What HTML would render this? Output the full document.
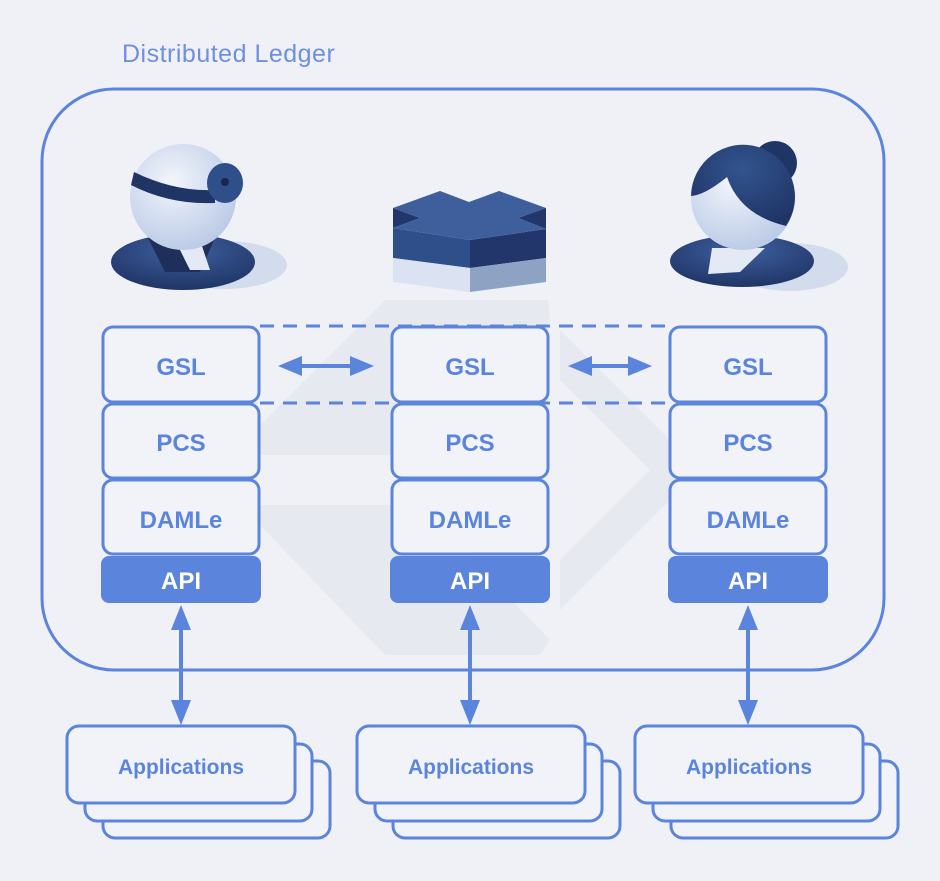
<!DOCTYPE html>
<html><head><meta charset="utf-8"><style>
html,body{margin:0;padding:0;background:#eff1f6;}
svg{display:block}
text{font-family:"Liberation Sans",sans-serif;}
</style></head><body>
<svg width="940" height="881" viewBox="0 0 940 881" xmlns="http://www.w3.org/2000/svg">
<defs>
<radialGradient id="hd" cx="0.4" cy="0.35" r="0.7"><stop offset="0" stop-color="#f2f5fb"/><stop offset="1" stop-color="#b9c9e6"/></radialGradient>
<radialGradient id="bd" cx="0.5" cy="0.3" r="0.7"><stop offset="0" stop-color="#3f609f"/><stop offset="1" stop-color="#1f3566"/></radialGradient>
<radialGradient id="hair" cx="0.5" cy="0.3" r="0.7"><stop offset="0" stop-color="#33548f"/><stop offset="1" stop-color="#1f3566"/></radialGradient>
</defs>
<rect width="940" height="881" fill="#eff1f6"/>
<!-- watermark -->
<g fill="#e7e9f0">
<polygon points="385,300 548,300 550,320 420,455 255,455 255,430"/>
<polygon points="255,505 420,505 550,640 540,655 385,655 255,520"/>
<polygon points="560,330 700,470 560,610 560,560 650,470 560,380"/>
</g>
<text x="122" y="62" font-size="25" fill="#6e8fe0" letter-spacing="0.5">Distributed Ledger</text>
<rect x="42" y="89" width="842" height="581" rx="72" fill="none" stroke="#5b84dd" stroke-width="3"/>

<!-- doctor -->
<ellipse cx="225" cy="265" rx="62" ry="24" fill="#d3dcec"/>
<ellipse cx="183" cy="262" rx="72" ry="28" fill="url(#bd)"/>
<polygon points="148,238 215,238 200,272 165,272" fill="#1e2f5c"/>
<polygon points="175,240 200,240 210,270 190,270" fill="#e3eaf6"/>
<circle cx="183" cy="197" r="53" fill="url(#hd)"/>
<path d="M134,172 Q175,192 215,190 L215,203 Q170,205 131,185 Z" fill="#1f3566"/>
<ellipse cx="225" cy="183" rx="18" ry="20" fill="#2e4f8a"/>
<circle cx="225" cy="182" r="4" fill="#16264d"/>

<!-- cross -->
<polygon points="393,208 420,218 393,228" fill="#22366b"/>
<polygon points="546,208 518,218 546,229" fill="#22366b"/>
<polygon points="393,228 470,240 470,268 393,258" fill="#2e4f8a"/>
<polygon points="470,240 546,229 546,258 470,268" fill="#22366b"/>
<polygon points="393,258 470,268 470,292 393,282" fill="#dbe3f2"/>
<polygon points="470,268 546,258 546,282 470,292" fill="#8ea3c4"/>
<polygon points="393,208 440,191 469,202 499,191 546,208 518,218 546,229 470,240 393,228 420,218" fill="#3e5f9c"/>

<!-- woman -->
<ellipse cx="790" cy="267" rx="58" ry="24" fill="#d3dcec"/>
<ellipse cx="742" cy="261" rx="72" ry="26" fill="url(#bd)"/>
<polygon points="712,248 765,248 740,272 708,274" fill="#e3eaf6"/>
<circle cx="775" cy="163" r="22" fill="#1f3566"/>
<circle cx="743" cy="198" r="52" fill="url(#hd)"/>
<path d="M691,196 A52,52 0 1 1 786,226 Q740,215 727,177 Q705,195 691,196 Z" fill="url(#hair)"/>

<!-- dashed lines -->
<g stroke="#5b84dd" stroke-width="3" stroke-dasharray="14,9" fill="none">
<line x1="260" y1="326" x2="670" y2="326"/>
<line x1="260" y1="403" x2="670" y2="403"/>
</g>

<!-- stacks -->
<g stroke="#5b84dd" stroke-width="3" fill="#f1f3f8">
<rect x="103" y="327" width="156" height="75" rx="10"/>
<rect x="103" y="404" width="156" height="74" rx="10"/>
<rect x="103" y="480" width="156" height="74" rx="10"/>
<rect x="392" y="327" width="156" height="75" rx="10"/>
<rect x="392" y="404" width="156" height="74" rx="10"/>
<rect x="392" y="480" width="156" height="74" rx="10"/>
<rect x="670" y="327" width="156" height="75" rx="10"/>
<rect x="670" y="404" width="156" height="74" rx="10"/>
<rect x="670" y="480" width="156" height="74" rx="10"/>
</g>
<g fill="#5b84dd">
<rect x="101" y="556" width="160" height="47" rx="8"/>
<rect x="390" y="556" width="160" height="47" rx="8"/>
<rect x="668" y="556" width="160" height="47" rx="8"/>
</g>
<g font-size="24" font-weight="bold" fill="#5b84dd" text-anchor="middle">
<text x="181" y="375">GSL</text><text x="181" y="451">PCS</text><text x="181" y="528">DAMLe</text>
<text x="470" y="375">GSL</text><text x="470" y="451">PCS</text><text x="470" y="528">DAMLe</text>
<text x="748" y="375">GSL</text><text x="748" y="451">PCS</text><text x="748" y="528">DAMLe</text>
<text x="181" y="589" fill="#fff">API</text><text x="470" y="589" fill="#fff">API</text><text x="748" y="589" fill="#fff">API</text>
</g>

<!-- horizontal arrows -->
<g fill="#5b84dd" stroke="none">
<rect x="295" y="364" width="60" height="4"/>
<polygon points="278,366 302,356 302,376"/><polygon points="374,366 350,356 350,376"/>
<rect x="585" y="364" width="50" height="4"/>
<polygon points="568,366 592,356 592,376"/><polygon points="652,366 628,356 628,376"/>
</g>

<!-- vertical arrows -->
<g fill="#5b84dd">
<rect x="179" y="620" width="4" height="90"/><polygon points="181,605 171,630 191,630"/><polygon points="181,725 171,700 191,700"/>
<rect x="468" y="620" width="4" height="90"/><polygon points="470,605 460,630 480,630"/><polygon points="470,725 460,700 480,700"/>
<rect x="746" y="620" width="4" height="90"/><polygon points="748,605 738,630 758,630"/><polygon points="748,725 738,700 758,700"/>
</g>

<!-- applications -->
<g stroke="#5b84dd" stroke-width="3" fill="#f1f3f8">
<rect x="103" y="761" width="227" height="77" rx="12"/>
<rect x="85" y="744" width="227" height="77" rx="12"/>
<rect x="67" y="726" width="228" height="77" rx="12"/>
<rect x="393" y="761" width="227" height="77" rx="12"/>
<rect x="375" y="744" width="227" height="77" rx="12"/>
<rect x="357" y="726" width="228" height="77" rx="12"/>
<rect x="671" y="761" width="227" height="77" rx="12"/>
<rect x="653" y="744" width="227" height="77" rx="12"/>
<rect x="635" y="726" width="228" height="77" rx="12"/>
</g>
<g font-size="21" font-weight="bold" fill="#5b84dd" text-anchor="middle">
<text x="181" y="774">Applications</text>
<text x="471" y="774">Applications</text>
<text x="749" y="774">Applications</text>
</g>
</svg>
</body></html>
